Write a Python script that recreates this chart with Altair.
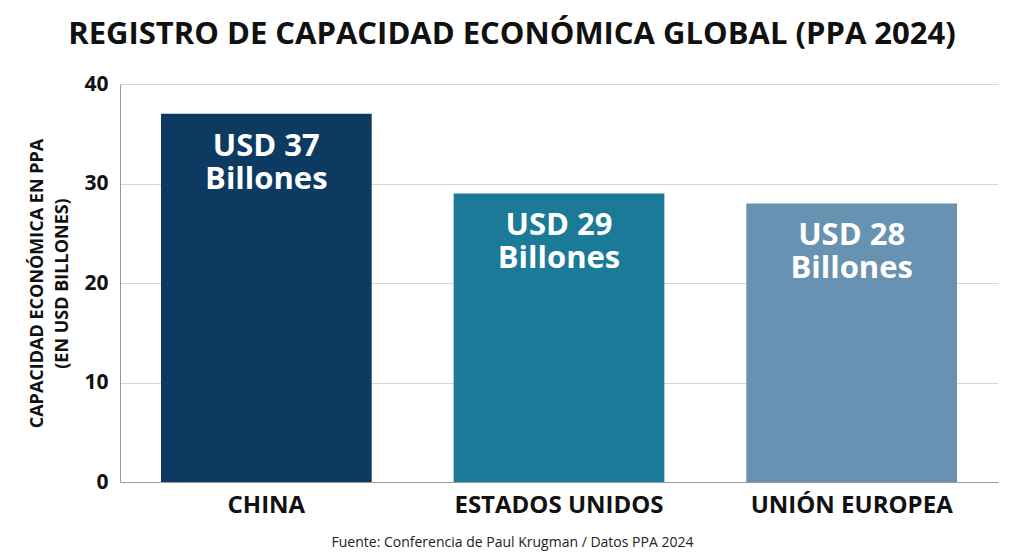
import altair as alt
import pandas as pd

categories = ["CHINA", "ESTADOS UNIDOS", "UNIÓN EUROPEA"]
values = [37, 29, 28]
colors = ["#0d3a61", "#1a7a98", "#6792b1"]
bar_labels = [f"USD {v}\nBillones" for v in values]

df = pd.DataFrame({"cat": categories, "val": values, "lab": bar_labels})

FONT = "Open Sans"

x_enc = alt.X(
    "cat:N", sort=None,
    scale=alt.Scale(paddingInner=0.28, paddingOuter=0.14),
    axis=alt.Axis(
        title="Fuente: Conferencia de Paul Krugman / Datos PPA 2024",
        titleFont=FONT, titleFontWeight="normal", titleFontSize=14, titleColor="#222222",
        titleX=392, titleY=60, titleBaseline="middle", titleAnchor="start", titleAlign="center",
        labelFont=FONT, labelFontWeight="bold", labelFontSize=24, labelColor="#111111",
        labelAngle=0, labelPadding=11, labelLimit=400, ticks=False, domain=True,
        domainColor="#999999", domainWidth=1, grid=False,
    ),
)

y_enc = alt.Y(
    "val:Q",
    scale=alt.Scale(domain=[0, 40]),
    axis=alt.Axis(
        values=[0, 10, 20, 30, 40],
        title=["CAPACIDAD ECONÓMICA EN PPA", "(EN USD BILLONES)"],
        titleFont=FONT, titleFontWeight="bold", titleFontSize=18, titleColor="#111111",
        titleX=-83, titleY=199, titleAngle=-90, titleAlign="center", titleBaseline="middle",
        titleLineHeight=25,
        labelFont=FONT, labelFontWeight="bold", labelFontSize=21, labelColor="#111111",
        labelPadding=12, ticks=False, domain=True, domainColor="#999999",
        grid=True, gridColor="#d6d6d6", gridWidth=1,
    ),
)

bars = alt.Chart(df).mark_bar().encode(
    x=x_enc,
    y=y_enc,
    color=alt.Color("cat:N", sort=None,
                    scale=alt.Scale(domain=categories, range=colors), legend=None),
)

texts = alt.Chart(df).mark_text(
    font=FONT, fontWeight="bold", fontSize=31, color="white",
    baseline="alphabetic", align="center", dy=42, lineBreak="\n", lineHeight=33,
).encode(
    x=alt.X("cat:N", sort=None),
    y=alt.Y("val:Q"),
    text="lab:N",
)

chart = alt.layer(bars, texts).properties(
    width=878, height=398,
    view=alt.ViewBackground(fill="white", stroke="white", strokeOpacity=0, strokeWidth=0),
    title=alt.TitleParams(
        "REGISTRO DE CAPACIDAD ECONÓMICA GLOBAL (PPA 2024)",
        font=FONT, fontWeight="bold", fontSize=31, color="#111111",
        anchor="middle", dx=-47, offset=7, baseline="middle",
    ),
    autosize=alt.AutoSizeParams(type="none"),
    padding={"left": 120, "top": 84, "right": 26, "bottom": 77},
).configure(background="white").configure_view(stroke="white", strokeOpacity=0, strokeWidth=0)

chart.save("out.html", embed_options={"renderer": "svg", "actions": False})
